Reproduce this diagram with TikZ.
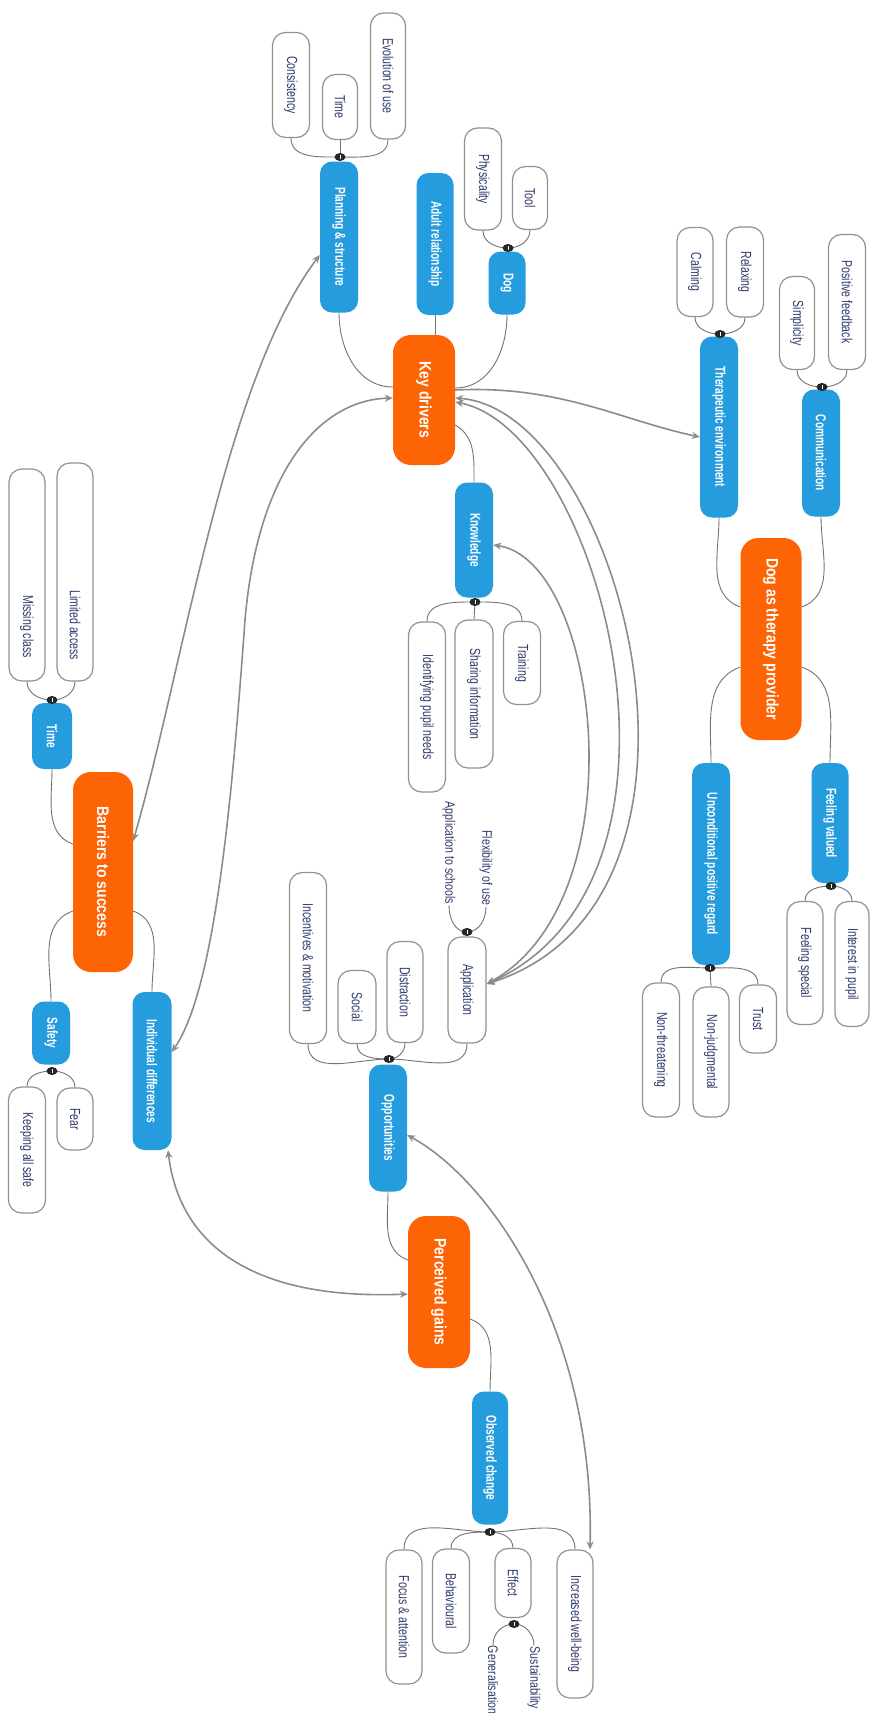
\documentclass[tikz,border=0pt]{standalone}
\usepackage{fontspec}
\setmainfont{Liberation Sans}
\usepackage{graphicx}
\usetikzlibrary{shapes.geometric,arrows.meta,backgrounds}

\definecolor{nodeblue}{RGB}{36,156,222}
\definecolor{nodeorange}{RGB}{252,100,6}
\definecolor{leaftext}{RGB}{48,58,108}
\definecolor{leafedge}{RGB}{145,145,145}
\definecolor{linkgrey}{RGB}{140,140,140}
\definecolor{branchgrey}{RGB}{115,115,115}

% horizontal / vertical scale of the label glyphs (reset by each node style)
\def\lxs{1}\def\lys{1.15}
% text set vertically, reading from top to bottom
\newcommand{\vlabel}[1]{\rotatebox{-90}{\scalebox{\lxs}[\lys]{#1}}}
% same, pushed to the lower end of a box of the given length
\newcommand{\vlabelend}[2]{\rotatebox{-90}{\makebox[#1pt][r]{\scalebox{\lxs}[\lys]{#2}}}}

\begin{document}
\begin{tikzpicture}[x=1pt,y=1pt,
  dims/.style 2 args={minimum width=#1pt, minimum height=#2pt},
  topic/.style={rectangle, rounded corners=18pt, fill=nodeorange, text=white, inner sep=0pt,
    font={\fontsize{14.5}{16}\selectfont\bfseries\def\lxs{0.97}\def\lys{1.15}}},
  branch/.style={rectangle, rounded corners=12pt, fill=nodeblue, text=white, inner sep=0pt,
    font={\fontsize{12}{14}\selectfont\bfseries\def\lxs{0.84}\def\lys{1.2}}},
  leaf/.style={rectangle, rounded corners=13pt, fill=white, draw=leafedge,
    line width=1.2pt, text=leaftext, inner sep=0pt,
    font={\fontsize{12}{14}\selectfont\def\lxs{0.88}\def\lys{1.22}}},
  plain/.style={text=leaftext, inner sep=1pt,
    font={\fontsize{11.5}{13}\selectfont\def\lxs{0.92}\def\lys{1.2}}},
  fandot/.style={ellipse, fill=black!85, minimum width=11pt, minimum height=8pt, inner sep=0pt,
    path picture={\draw[white,line width=1pt]
      ([yshift=-2pt]path picture bounding box.center) -- ([yshift=2pt]path picture bounding box.center);}},
  twig/.style={draw=branchgrey, line width=0.9pt},
  linkboth/.style={draw=linkgrey, line width=1.6pt,
    {Stealth[length=8pt,width=7pt]}-{Stealth[length=8pt,width=7pt]}},
  linkto/.style={draw=linkgrey, line width=1.6pt, -{Stealth[length=8pt,width=7pt]}},
]
\useasboundingbox (0,0) rectangle (870,-1713);

% ---------------- Key drivers ----------------
\node[topic, dims={62}{130}] (kd) at (424,-400) {\vlabel{Key drivers}};
\node[branch, dims={38}{151}] (ps) at (339,-237) {\vlabel{Planning \& structure}};
\node[branch, dims={37}{142}] (ar) at (435,-244) {\vlabel{Adult relationship}};
\node[branch, dims={37}{63}] (dog) at (507,-283) {\vlabel{Dog}};
\node[leaf, dims={37}{105}] (cons) at (291,-85) {\vlabel{Consistency}};
\node[leaf, dims={35}{65}] (time1) at (340,-107) {\vlabel{Time}};
\node[leaf, dims={35}{126}] (evo) at (388,-76) {\vlabel{Evolution of use}};
\node[leaf, dims={37}{102}] (phys) at (483,-179) {\vlabel{Physicality}};
\node[leaf, dims={35}{63}] (tool) at (530,-198) {\vlabel{Tool}};
\node[fandot] (dps) at (340,-157) {};
\node[fandot] (ddog) at (508,-248) {};
\node[branch, dims={38}{115}] (kn) at (474,-540) {\vlabel{Knowledge}};
\node[fandot] (dkn) at (475,-602) {};
\node[leaf, dims={37}{170}] (idp) at (427,-707) {\vlabel{Identifying pupil needs}};
\node[leaf, dims={38}{148}] (si) at (474,-694) {\vlabel{Sharing information}};
\node[leaf, dims={37}{83}] (tr) at (522,-663) {\vlabel{Training}};

% ---------------- Dog as therapy provider ----------------
\node[topic, dims={61}{202}] (dtp) at (771,-639) {\vlabel{Dog as therapy provider}};
\node[branch, dims={38}{181}] (te) at (719,-427) {\vlabel{Therapeutic environment}};
\node[branch, dims={38}{127}] (com) at (821,-453) {\vlabel{Communication}};
\node[leaf, dims={36}{89}] (calm) at (695,-272) {\vlabel{Calming}};
\node[leaf, dims={37}{90}] (relax) at (745,-272) {\vlabel{Relaxing}};
\node[fandot] (dte) at (720,-334) {};
\node[leaf, dims={35}{93}] (simp) at (797,-323) {\vlabel{Simplicity}};
\node[leaf, dims={37}{135}] (pf) at (847,-302) {\vlabel{Positive feedback}};
\node[fandot] (dcom) at (822,-387) {};
\node[branch, dims={38}{202}] (upr) at (711,-864) {\vlabel{Unconditional positive regard}};
\node[branch, dims={37}{120}] (fv) at (830,-823) {\vlabel{Feeling valued}};
\node[fandot] (dfv) at (831,-886) {};
\node[fandot] (dupr) at (710,-968) {};
\node[leaf, dims={36}{123}] (fs) at (805,-963) {\vlabel{Feeling special}};
\node[leaf, dims={34}{125}] (iip) at (852,-964) {\vlabel{Interest in pupil}};
\node[leaf, dims={37}{68}] (trust) at (758,-1019) {\vlabel{Trust}};
\node[leaf, dims={36}{130}] (nj) at (711,-1052) {\vlabel{Non-judgmental}};
\node[leaf, dims={37}{134}] (nt) at (661,-1050) {\vlabel{Non-threatening}};

% ---------------- Barriers to success ----------------
\node[topic, dims={60}{200}] (bs) at (103,-872) {\vlabel{Barriers to success}};
\node[branch, dims={40}{66}] (time2) at (52,-736) {\vlabel{Time}};
\node[fandot] (dtime) at (52,-700) {};
\node[leaf, dims={36}{212}] (mc) at (27,-575) {\vlabelend{166}{Missing class}};
\node[leaf, dims={36}{218}] (la) at (75,-572) {\vlabelend{176}{Limited access}};
\node[branch, dims={39}{158}] (id) at (152,-1071) {\vlabel{Individual differences}};
\node[branch, dims={38}{63}] (saf) at (51,-1033) {\vlabel{Safety}};
\node[fandot] (dsaf) at (52,-1071) {};
\node[leaf, dims={36}{62}] (fear) at (75,-1119) {\vlabel{Fear}};
\node[leaf, dims={37}{126}] (kas) at (27,-1150) {\vlabel{Keeping all safe}};

% ---------------- Perceived gains ----------------
\node[topic, dims={62}{152}] (pg) at (439,-1292) {\vlabel{Perceived gains}};
\node[branch, dims={38}{127}] (opp) at (388,-1128) {\vlabel{Opportunities}};
\node[fandot] (dopp) at (389,-1059) {};
\node[leaf, dims={38}{106}] (app) at (467,-990) {\vlabel{Application}};
\node[leaf, dims={36}{101}] (dist) at (405,-992) {\vlabel{Distraction}};
\node[leaf, dims={38}{73}] (soc) at (357,-1007) {\vlabel{Social}};
\node[leaf, dims={37}{171}] (inc) at (308,-958) {\vlabel{Incentives \& motivation}};
\node[fandot] (dapp) at (467,-932) {};
\node[plain] (ats) at (449,-853) {\vlabel{Application to schools}};
\node[plain] (flex) at (486,-868) {\vlabel{Flexibility of use}};
\node[branch, dims={36}{133}] (oc) at (490,-1458) {\vlabel{Observed change}};
\node[fandot] (doc) at (490,-1532) {};
\node[leaf, dims={36}{134}] (fa) at (404,-1617) {\vlabel{Focus \& attention}};
\node[leaf, dims={37}{104}] (beh) at (451,-1601) {\vlabel{Behavioural}};
\node[leaf, dims={36}{69}] (eff) at (513,-1583) {\vlabel{Effect}};
\node[leaf, dims={36}{148}] (iwb) at (575,-1624) {\vlabel{Increased well-being}};
\node[fandot] (deff) at (514,-1624) {};
\node[plain] (sus) at (534,-1678) {\vlabel{Sustainability}};
\node[plain] (gen) at (493,-1680) {\vlabel{Generalisation}};

\begin{pgfonlayer}{background}
\fill[white] (0,0) rectangle (870,-1713);

% fans from the collapse handles to the leaves
\draw[twig] (dps.center) to[out=180,in=-90] (cons.south);
\draw[twig] (dps.center) -- (time1.south);
\draw[twig] (dps.center) to[out=0,in=-90] (evo.south);
\draw[twig] (ddog.center) to[out=180,in=-90] (phys.south);
\draw[twig] (ddog.center) to[out=0,in=-90] (tool.south);
\draw[twig] (dkn.center) to[out=180,in=90] (idp.north);
\draw[twig] (dkn.center) -- (si.north);
\draw[twig] (dkn.center) to[out=0,in=90] (tr.north);
\draw[twig] (dte.center) to[out=180,in=-90] (calm.south);
\draw[twig] (dte.center) to[out=0,in=-90] (relax.south);
\draw[twig] (dcom.center) to[out=180,in=-90] (simp.south);
\draw[twig] (dcom.center) to[out=0,in=-90] (pf.south);
\draw[twig] (dfv.center) to[out=180,in=90] (fs.north);
\draw[twig] (dfv.center) to[out=0,in=90] (iip.north);
\draw[twig] (dupr.center) to[out=180,in=90] (nt.north);
\draw[twig] (dupr.center) -- (nj.north);
\draw[twig] (dupr.center) to[out=0,in=90] (trust.north);
\draw[twig] (dtime.center) to[out=180,in=-90] (mc.south);
\draw[twig] (dtime.center) to[out=0,in=-90] (la.south);
\draw[twig] (dsaf.center) to[out=180,in=90] (kas.north);
\draw[twig] (dsaf.center) to[out=0,in=90] (fear.north);
\draw[twig] (dopp.center) to[out=180,in=-90] (inc.south);
\draw[twig] (dopp.center) to[out=180,in=-90] (soc.south);
\draw[twig] (dopp.center) to[out=0,in=-90] (dist.south);
\draw[twig] (dopp.center) to[out=0,in=-90] (app.south);
\draw[twig] (dapp.center) to[out=180,in=-90] (ats.south);
\draw[twig] (dapp.center) to[out=0,in=-90] (flex.south);
\draw[twig] (doc.center) to[out=180,in=90] (fa.north);
\draw[twig] (doc.center) to[out=180,in=90] (beh.north);
\draw[twig] (doc.center) to[out=0,in=90] (eff.north);
\draw[twig] (doc.center) to[out=0,in=90] (iwb.north);
\draw[twig] (deff.center) to[out=180,in=90] (gen.north);
\draw[twig] (deff.center) to[out=0,in=90] (sus.north);

% branches from the central topics
\draw[twig] ([yshift=13pt]kd.west) to[out=180,in=-90] (ps.south);
\draw[twig] (ar.south) -- (ar.south |- kd.north);
\draw[twig] ([yshift=12pt]kd.east) to[out=0,in=-90] (dog.south);
\draw[twig] ([yshift=-25pt]kd.east) to[out=-30,in=90] (kn.north);
\draw[twig] (te.south) to[out=-90,in=160] ([yshift=32pt]dtp.west);
\draw[twig] (com.south) to[out=-90,in=20] ([yshift=32pt]dtp.east);
\draw[twig] ([yshift=-28pt]dtp.west) to[out=200,in=90] (upr.north);
\draw[twig] ([yshift=-28pt]dtp.east) to[out=-20,in=90] (fv.north);
\draw[twig] (time2.south) to[out=-90,in=160] ([yshift=28pt]bs.west);
\draw[twig] ([yshift=-39pt]bs.west) to[out=200,in=90] (saf.north);
\draw[twig] ([yshift=-39pt]bs.east) to[out=-20,in=90] (id.north);
\draw[twig] (opp.south) to[out=-90,in=160] ([yshift=32pt]pg.west);
\draw[twig] ([yshift=-27pt]pg.east) to[out=-20,in=90] (oc.north);

% cross links
\draw[linkboth] ([yshift=-18pt]ps.west) .. controls (225,-380) and (185,-660) .. ([yshift=31pt]bs.east);
\draw[linkboth] ([yshift=2pt]kd.west) .. controls (320,-400) and (258,-470) .. (245,-620)
  .. controls (232,-800) and (215,-990) .. ([yshift=19pt]id.east);
\draw[linkto] ([yshift=10pt]kd.east) .. controls (560,-385) and (620,-420) .. ([yshift=-10pt]te.west);
\draw[linkboth] ([yshift=-5pt]kn.east) .. controls (600,-560) and (640,-900) .. ([yshift=6pt]app.east);
\draw[linkboth] ([yshift=-2pt]kd.east) .. controls (600,-430) and (720,-880) .. ([yshift=6pt]app.east);
\draw[linkboth] ([yshift=2pt]kd.east) .. controls (620,-410) and (750,-900) .. ([yshift=6pt]app.east);
\draw[linkboth] ([yshift=-2pt]pg.west) .. controls (260,-1300) and (180,-1250) .. ([xshift=16pt]id.south);
\draw[linkboth] ([yshift=-7pt]opp.east) .. controls (490,-1180) and (595,-1330) .. ([xshift=15pt]iwb.north);
\end{pgfonlayer}
\end{tikzpicture}
\end{document}
